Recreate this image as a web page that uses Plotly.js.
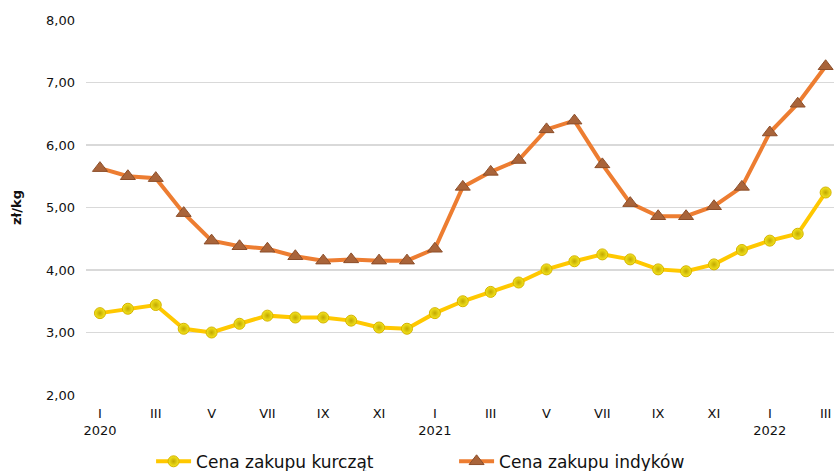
<!DOCTYPE html>
<html><head><meta charset="utf-8">
<script src="https://cdn.plot.ly/plotly-3.0.1.min.js"></script>
<style>html,body{margin:0;padding:0;background:#fff}#c{width:834px;height:471px}</style>
</head><body><div id="c"></div>
<script>
const months = ["I 2020","II 2020","III 2020","IV 2020","V 2020","VI 2020","VII 2020","VIII 2020","IX 2020","X 2020","XI 2020","XII 2020",
"I 2021","II 2021","III 2021","IV 2021","V 2021","VI 2021","VII 2021","VIII 2021","IX 2021","X 2021","XI 2021","XII 2021",
"I 2022","II 2022","III 2022"];
const tickLabels = ["I<br>2020","III","V","VII","IX","XI","I<br>2021","III","V","VII","IX","XI","I<br>2022","III"];
const tickMonths = ["I 2020","III 2020","V 2020","VII 2020","IX 2020","XI 2020","I 2021","III 2021","V 2021","VII 2021","IX 2021","XI 2021","I 2022","III 2022"];
const chicken = [3.31,3.38,3.44,3.06,3.00,3.14,3.27,3.24,3.24,3.19,3.08,3.06,
3.31,3.50,3.65,3.80,4.01,4.14,4.25,4.17,4.01,3.98,4.09,4.32,4.47,4.58,5.24];
const turkey = [5.63,5.50,5.47,4.91,4.47,4.38,4.34,4.22,4.15,4.17,4.15,4.15,
4.34,5.33,5.57,5.76,6.25,6.39,5.69,5.07,4.86,4.86,5.02,5.33,6.20,6.66,7.26];

const traces = [
 {x: months, y: chicken, name: "Cena zakupu kurcząt", type: "scatter", mode: "lines+markers",
  line: {color: "#FFC800", width: 4},
  marker: {symbol: "circle", size: 11, color: "#F5E61E", line: {color: "#D4B300", width: 1},
           gradient: {type: "radial", color: "#C2A800"}}},
 {x: months, y: turkey, name: "Cena zakupu indyków", type: "scatter", mode: "lines+markers",
  line: {color: "#ED7D31", width: 4},
  marker: {symbol: "triangle-up", size: 13, color: "#A9643A", line: {color: "#8C4E2A", width: 1}}}
];
const layout = {
 width: 834, height: 471,
 margin: {l: 86, r: 0, t: 20, b: 76, autoexpand: false},
 paper_bgcolor: "#fff", plot_bgcolor: "#fff",
 separators: ", ",
 font: {family: "DejaVu Sans, Verdana, sans-serif", color: "#222", size: 13},
 showlegend: true,
 legend: {orientation: "h", x: 0.087, y: -0.178, xanchor: "left", yanchor: "middle",
          font: {size: 17, color: "#111"}, itemwidth: 35, entrywidth: 253, tracegroupgap: 0},
 xaxis: {type: "category", range: [-0.5, 26.3], tickmode: "array", tickvals: tickMonths, ticktext: tickLabels,
         showgrid: false, zeroline: false, showline: false, ticks: "", ticklabelstandoff: 9,
         tickfont: {size: 13, color: "#111"}},
 yaxis: {range: [2, 8], dtick: 1, tick0: 2, tickformat: ".2f", gridcolor: "#d9d9d9", gridwidth: 1.5,
         zeroline: false, showline: false, ticks: "", ticklabelstandoff: 10, tickfont: {size: 13, color: "#111"},
         title: {text: "<b>zł/kg</b>", font: {size: 13, color: "#111"}, standoff: 21}}
};
Plotly.newPlot("c", traces, layout, {displayModeBar: false, staticPlot: true});
</script></body></html>
